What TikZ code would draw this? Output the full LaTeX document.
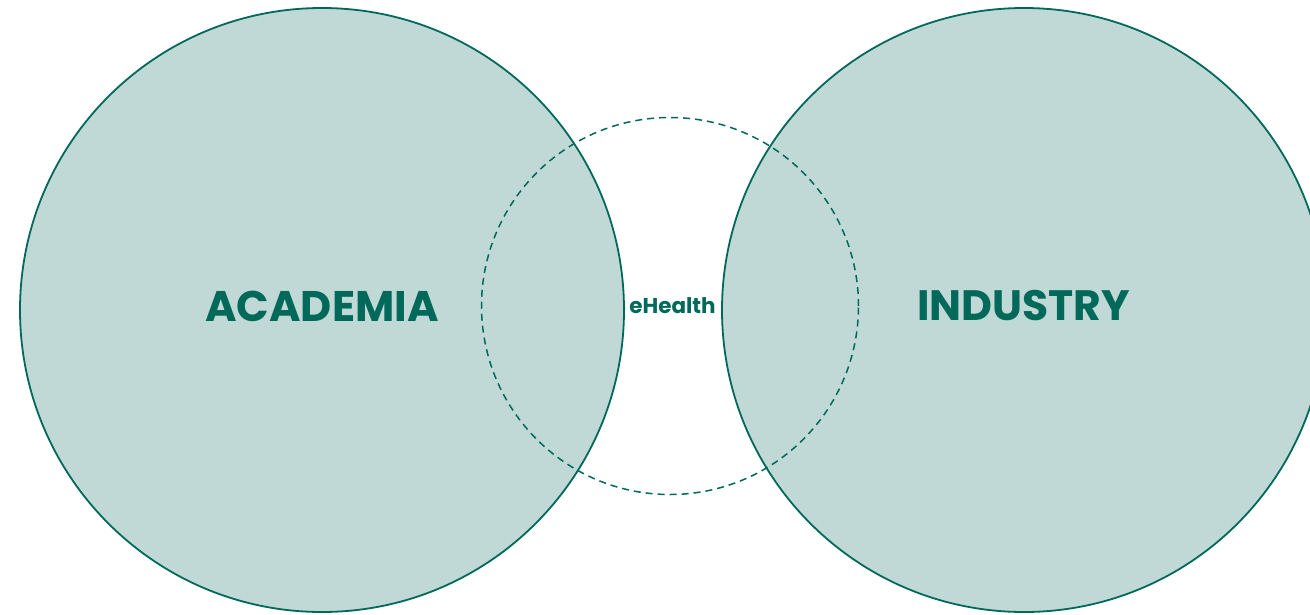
\documentclass[tikz,border=0pt]{standalone}
\usepackage{fontspec}
\setmainfont{Poppins}
\definecolor{ring}{HTML}{00695A}
\definecolor{disk}{HTML}{C0D9D6}
\begin{document}
\begin{tikzpicture}[x=1pt,y=-1pt,
  bigcircle/.style={circle,draw=ring,fill=disk,line width=1.8pt,minimum size=604pt,inner sep=0pt},
  midcircle/.style={circle,draw=ring,dash pattern=on 7pt off 5pt,line width=1.5pt,minimum size=377pt,inner sep=0pt},
  label/.style={text=ring,font=\bfseries}]
\useasboundingbox (0,0) rectangle (1310,614);
\clip (0,0) rectangle (1310,614);
\node[bigcircle] (acad) at (322,310) {};
\node[bigcircle] (ind) at (1024,310) {};
\node[midcircle] (eh) at (670,306) {};
\node[label,font=\bfseries\fontsize{42.8}{50}\selectfont] (acadt) at (322,306) {ACADEMIA};
\node[label,font=\bfseries\fontsize{42.5}{50}\selectfont] (indt) at (1023.5,306) {INDUSTRY};
\node[label,font=\bfseries\fontsize{21.5}{24}\selectfont] (eht) at (672.5,306) {eHealth};
\end{tikzpicture}
\end{document}
